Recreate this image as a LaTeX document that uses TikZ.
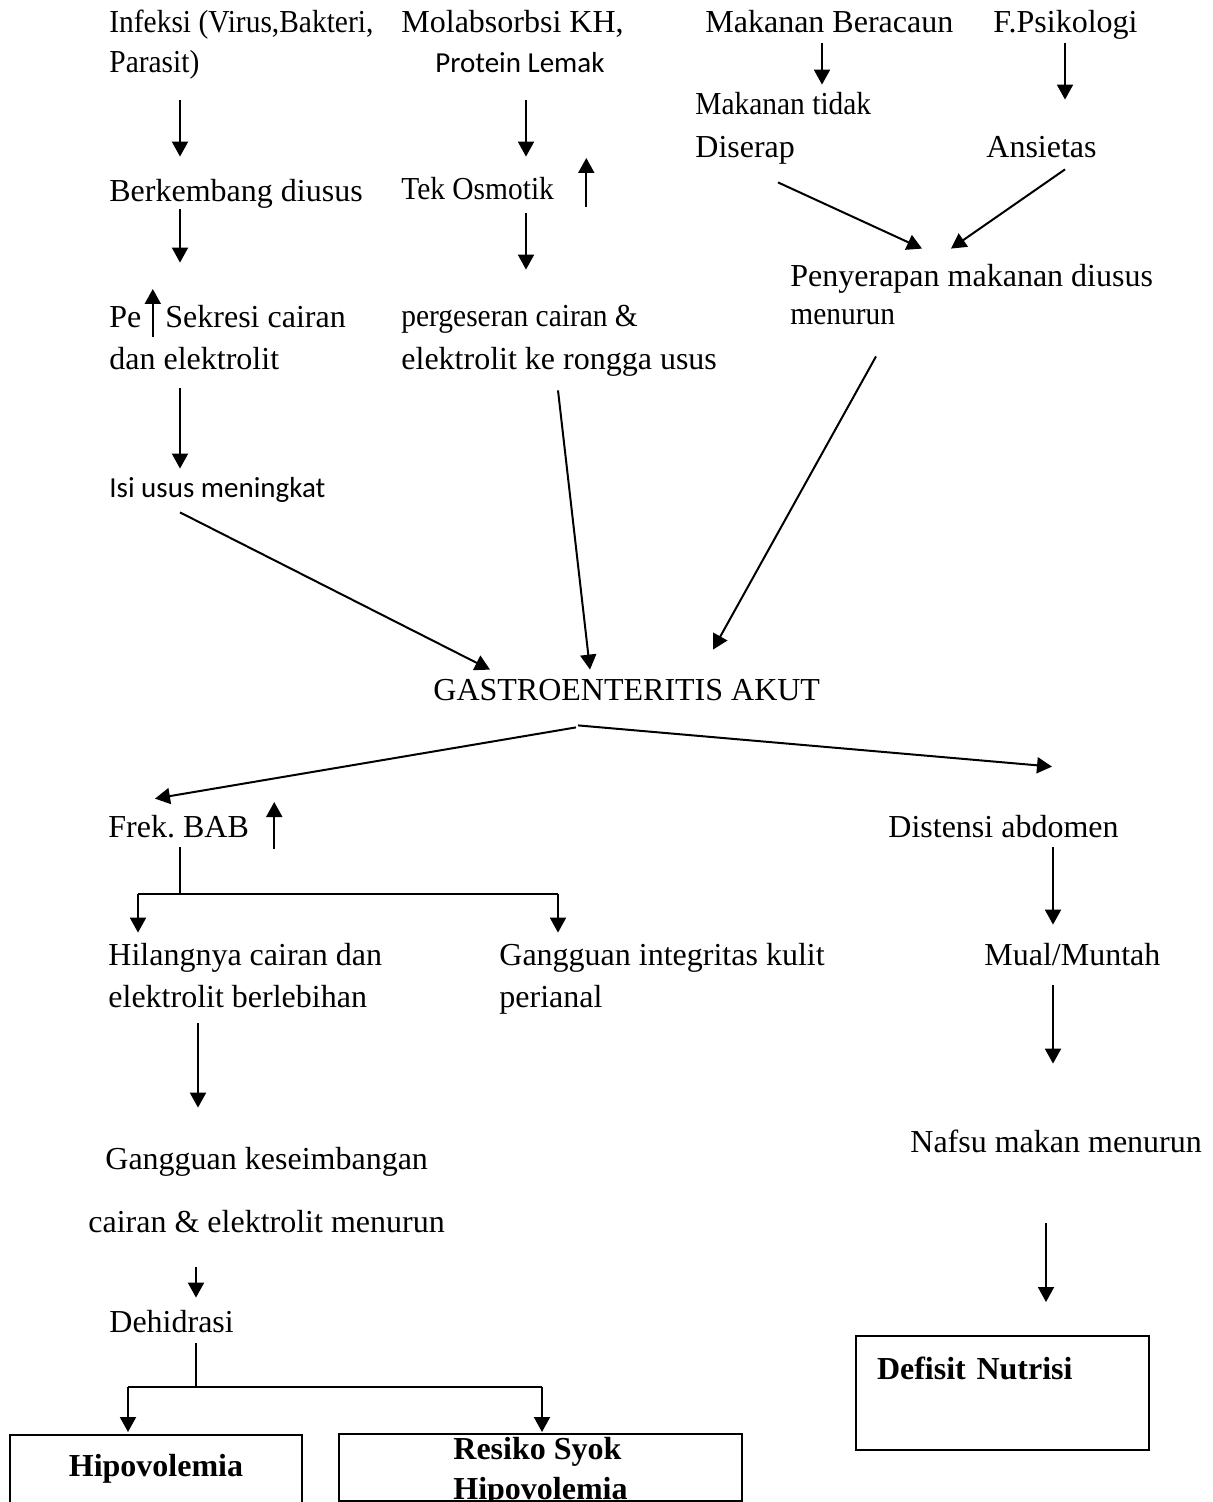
\documentclass[tikz,border=0pt]{standalone}
\usepackage{fontspec}
\setmainfont{Liberation Serif}
\newfontfamily\calibri{Carlito}
\newfontfamily\condserif[FakeStretch=0.92]{Liberation Serif}
\usetikzlibrary{arrows.meta, calc, positioning}

\tikzset{
  txt/.style={anchor=base west, inner sep=0pt, text height=11pt, text depth=3.5pt,
    font=\fontsize{16}{20}\selectfont},
  cond/.style={txt, font=\condserif\fontsize{16}{20}\selectfont},
  sans/.style={txt, font=\calibri\fontsize{14.5}{18}\selectfont},
  arr/.style={-{Triangle[length=7.5pt, width=8pt]}, line width=1pt},
  stem/.style={line width=0.6pt},
  bar/.style={line width=1pt},
  box/.style={draw, line width=1pt, inner sep=0pt, anchor=north west,
    font=\bfseries\fontsize{16}{20}\selectfont},
}

\begin{document}
\begin{tikzpicture}[x=0.5pt, y=-0.5pt]

  \useasboundingbox (0,0) rectangle (1213,1502);

  % Arrow columns
  \coordinate (infx) at (180,0);
  \coordinate (molx) at (526,0);
  \coordinate (makx) at (822,0);
  \coordinate (psix) at (1065,0);
  \coordinate (disx) at (1053,0);
  \coordinate (nafx) at (1046,0);
  \coordinate (hilx) at (198,0);
  \coordinate (kesx) at (196,0);

  % Upper causes
  \node[cond] (infeksi)  at (109,33)  {Infeksi (Virus,Bakteri,};
  \node[cond] (parasit)  at (109,73)  {Parasit)};
  \node[txt]  (berkemb)  at (109,202) {Berkembang diusus};
  \node[txt]  (pe)       at (109,328) {Pe};
  \node[txt]  (sekresi)  at (165,328) {Sekresi cairan};
  \node[txt]  (danel)    at (109,370) {dan elektrolit};
  \node[sans] (isi)      at (109,497) {Isi usus meningkat};

  \node[txt]  (molab)    at (401,33)  {Molabsorbsi KH,};
  \node[sans] (protein)  at (435,73)  {Protein Lemak};
  \node[cond] (tek)      at (401,200) {Tek Osmotik};
  \node[cond] (geser)    at (401,327) {pergeseran cairan \&};
  \node[txt]  (rongga)   at (401,370) {elektrolit ke rongga usus};

  \node[txt]  (racun)    at (705,33)  {Makanan Beracaun};
  \node[cond] (tidak)    at (695,115) {Makanan tidak};
  \node[txt]  (diserap)  at (695,158) {Diserap};
  \node[txt]  (psiko)    at (993,33)  {F.Psikologi};
  \node[txt]  (ansietas) at (986,158) {Ansietas};
  \node[txt]  (serap)    at (790,287) {Penyerapan makanan diusus};
  \node[cond] (menurun)  at (790,325) {menurun};

  \node[txt] (gea) at (433,700) {GASTROENTERITIS AKUT};

  % Lower effects
  \node[txt]  (frek)     at (108,837)  {Frek.\ BAB};
  \node[txt]  (distensi) at (888,837)  {Distensi abdomen};
  \node[txt]  (hilang1)  at (108,965)  {Hilangnya cairan dan};
  \node[txt]  (hilang2)  at (108,1007) {elektrolit berlebihan};
  \node[txt]  (integ1)   at (499,965)  {Gangguan integritas kulit};
  \node[txt]  (integ2)   at (499,1007) {perianal};
  \node[txt]  (mual)     at (984,965)  {Mual/Muntah};
  \node[txt]  (kes1)     at (105,1169) {Gangguan keseimbangan};
  \node[txt]  (kes2)     at (88,1232)  {cairan \& elektrolit menurun};
  \node[txt]  (dehid)    at (109,1332) {Dehidrasi};
  \node[txt]  (nafsu)    at (910,1152) {Nafsu makan menurun};

  % Diagnoses
  \node[box, minimum width=146pt, text height=20.5pt, text depth=17.5pt] (hipo) at (9,1434) {Hipovolemia};
  \node[box, minimum width=201.5pt, align=left, text height=32.5pt, text depth=1pt] (syok) at (338,1433) {Resiko Syok\\Hipovolemia};
  \node[box, inner xsep=10.5pt, text width=125.5pt, align=left, text height=21.5pt, text depth=35.5pt] (defisit) at (855,1335) {Defisit Nutrisi};

  % Vertical arrows
  \draw[arr, shorten <=10pt, shorten >=11.5pt] (parasit.south -| infx) -- (berkemb.north -| infx);
  \draw[arr, shorten >=21.5pt] (berkemb.south -| infx) -- (sekresi.north -| infx);
  \draw[arr, shorten <=5.5pt, shorten >=3pt] (danel.south -| infx) -- (isi.north -| infx);
  \draw[arr, shorten <=10pt, shorten >=10.5pt] (protein.south -| molx) -- (tek.north -| molx);
  \draw[arr, shorten <=3pt, shorten >=17.5pt] (tek.south -| molx) -- (geser.north -| molx);
  \draw[arr, shorten <=1.5pt, shorten >=4pt] (racun.south -| makx) -- (tidak.north -| makx);
  \draw[arr, shorten <=1.5pt, shorten >=18pt] (psiko.south -| psix) -- (ansietas.north -| psix);
  \draw[arr, shorten <=1.5pt, shorten >=9pt] (distensi.south -| disx) -- (mual.north -| disx);
  \draw[arr, shorten <=6.5pt, shorten >=33pt] (mual.south -| disx) -- (nafsu.north -| disx);
  \draw[arr, shorten <=32pt, shorten >=16.5pt] (nafsu.south -| nafx) -- (defisit.north -| nafx);
  \draw[arr, shorten <=4.5pt, shorten >=19.5pt] (hilang2.south -| hilx) -- (kes1.north -| hilx);
  \draw[arr, shorten <=14pt, shorten >=6pt] (kes2.south -| kesx) -- (dehid.north -| kesx);

  % Rising marks
  \draw[arr] ($(pe.base east)+(11,9)$) -- ($(pe.base east)+(11,-39)$);
  \draw[arr] ($(tek.base east)+(32,7)$) -- ($(tek.base east)+(32,-42)$);
  \draw[arr] ($(frek.base east)+(25,12)$) -- ($(frek.base east)+(25,-35)$);

  % Slanted arrows
  \draw[arr] ($(diserap.south west)+(83,17)$) -- ($(serap.north west)+(132,-16)$);
  \draw[arr] ($(ansietas.south west)+(79,4)$) -- ($(serap.north west)+(161,-16)$);
  \draw[arr] ($(isi.south west)+(71,8)$) -- ($(gea.north west)+(57,-8)$);
  \draw[arr] ($(rongga.south west)+(157,13)$) -- ($(gea.north west)+(157,-8)$);
  \draw[arr] ($(menurun.south west)+(86,24)$) -- ($(gea.north west)+(280,-28)$);
  \draw[arr] ($(gea.south west)+(143,20)$) -- ($(frek.north west)+(47,-16)$);
  \draw[arr] ($(gea.south west)+(145,18)$) -- ($(distensi.north west)+(164,-48)$);

  % Forks
  \coordinate (fork1)  at (180,894);
  \coordinate (fork1l) at (138,894);
  \coordinate (fork1r) at (558,894);
  \draw[stem, shorten <=1.5pt] (frek.south -| fork1) -- (fork1);
  \draw[bar] (fork1l) -- (fork1r);
  \draw[arr, shorten >=5pt] (fork1l) -- (hilang1.north -| fork1l);
  \draw[arr, shorten >=5pt] (fork1r) -- (integ1.north -| fork1r);

  \coordinate (fork2)  at (196,1387);
  \coordinate (fork2l) at (128,1387);
  \coordinate (fork2r) at (542,1387);
  \draw[stem, shorten <=2pt] (dehid.south -| fork2) -- (fork2);
  \draw[bar] (fork2l) -- (fork2r);
  \draw[arr, shorten >=1pt] (fork2l) -- (hipo.north -| fork2l);
  \draw[arr, shorten >=0.5pt] (fork2r) -- (syok.north -| fork2r);

\end{tikzpicture}
\end{document}
